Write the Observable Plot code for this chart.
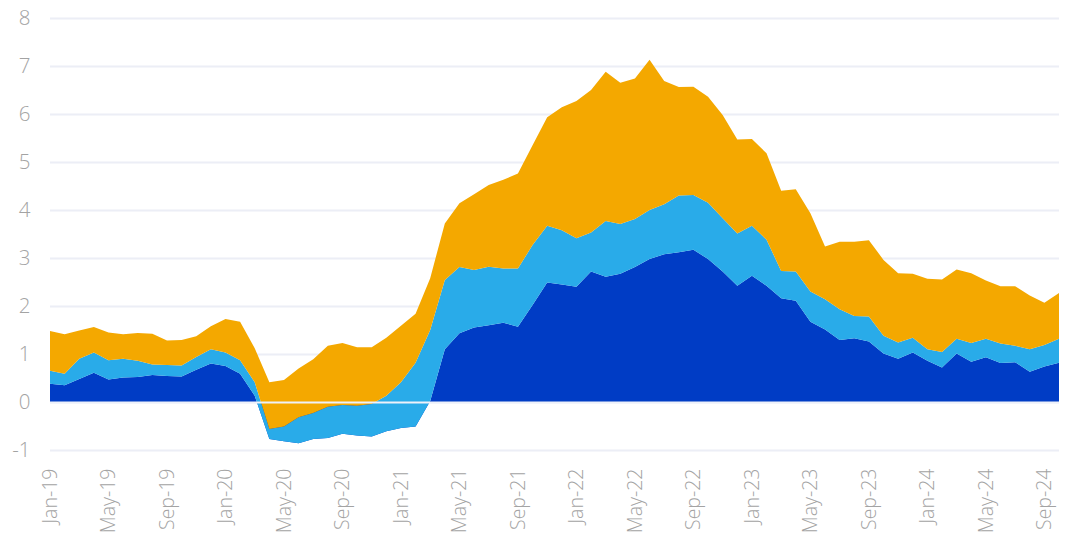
<!DOCTYPE html>
<html>
<head>
<meta charset="utf-8">
<script src="https://cdn.jsdelivr.net/npm/d3@7"></script>
<script src="https://cdn.jsdelivr.net/npm/@observablehq/plot@0.6"></script>
<style>
  html, body { margin: 0; padding: 0; background: #ffffff; }
  #chart svg { display: block; }
</style>
</head>
<body>
<div id="chart"></div>
<script>
// Month categories (Jan-19 .. Oct-24)
const months = [
  "Jan-19","Feb-19","Mar-19","Apr-19","May-19","Jun-19","Jul-19","Aug-19","Sep-19","Oct-19","Nov-19","Dec-19",
  "Jan-20","Feb-20","Mar-20","Apr-20","May-20","Jun-20","Jul-20","Aug-20","Sep-20","Oct-20","Nov-20","Dec-20",
  "Jan-21","Feb-21","Mar-21","Apr-21","May-21","Jun-21","Jul-21","Aug-21","Sep-21","Oct-21","Nov-21","Dec-21",
  "Jan-22","Feb-22","Mar-22","Apr-22","May-22","Jun-22","Jul-22","Aug-22","Sep-22","Oct-22","Nov-22","Dec-22",
  "Jan-23","Feb-23","Mar-23","Apr-23","May-23","Jun-23","Jul-23","Aug-23","Sep-23","Oct-23","Nov-23","Dec-23",
  "Jan-24","Feb-24","Mar-24","Apr-24","May-24","Jun-24","Jul-24","Aug-24","Sep-24","Oct-24"
];

// Series 1 (dark blue, bottom)
const seriesDark = [
  0.38,0.35,0.48,0.61,0.47,0.51,0.52,0.56,0.54,0.53,0.67,0.80,
  0.75,0.59,0.13,-0.77,-0.82,-0.86,-0.77,-0.75,-0.66,-0.70,-0.72,-0.61,
  -0.54,-0.51,0.02,1.10,1.43,1.55,1.60,1.65,1.57,2.02,2.49,2.45,
  2.40,2.72,2.61,2.67,2.81,2.98,3.08,3.12,3.17,2.98,2.72,2.42,
  2.63,2.42,2.16,2.11,1.67,1.51,1.29,1.33,1.26,1.01,0.90,1.03,
  0.86,0.72,1.01,0.84,0.93,0.81,0.83,0.63,0.74,0.82
];

// Series 2 (light blue, middle)
const seriesLight = [
  0.27,0.24,0.42,0.42,0.40,0.39,0.34,0.22,0.23,0.23,0.27,0.30,
  0.28,0.28,0.28,0.21,0.31,0.54,0.54,0.65,0.60,0.62,0.68,0.74,
  0.95,1.33,1.48,1.44,1.38,1.20,1.22,1.13,1.21,1.25,1.18,1.13,
  1.01,0.81,1.16,1.04,1.00,1.02,1.04,1.18,1.14,1.17,1.11,1.09,
  1.04,0.96,0.57,0.61,0.63,0.63,0.64,0.46,0.52,0.37,0.34,0.31,
  0.24,0.32,0.31,0.39,0.39,0.41,0.34,0.47,0.45,0.50
];

// Series 3 (orange, top)
const seriesOrange = [
  0.83,0.82,0.59,0.53,0.58,0.51,0.58,0.64,0.51,0.53,0.43,0.48,
  0.70,0.80,0.71,0.97,0.97,1.02,1.12,1.27,1.29,1.22,1.18,1.21,
  1.18,1.02,1.08,1.18,1.33,1.58,1.70,1.85,1.98,2.08,2.26,2.56,
  2.86,2.97,3.11,2.94,2.93,3.13,2.57,2.26,2.26,2.21,2.15,1.96,
  1.81,1.80,1.67,1.71,1.63,1.10,1.41,1.55,1.59,1.58,1.44,1.33,
  1.47,1.51,1.44,1.45,1.21,1.19,1.24,1.12,0.88,0.95
];

// Axis ticks
const yTicks = [-1,0,1,2,3,4,5,6,7,8];
const xTickIndexes = d3.range(0, months.length, 4);

// Cumulative (Excel-style) stacking: each series starts where the previous ended
const rows = months.map((m, i) => {
  const a = seriesDark[i], b = seriesLight[i], c = seriesOrange[i];
  return {i, m, a0: 0, a1: a, b0: a, b1: a + b, c0: a + b, c1: a + b + c};
});

const chart = Plot.plot({
  width: 1065,
  height: 536,
  marginLeft: 50,
  marginRight: 6,
  marginTop: 18,
  marginBottom: 86,
  style: {fontFamily: "'Open Sans', sans-serif", fontSize: "20px", background: "#ffffff", color: "#a3a3a3"},
  x: {type: "linear", domain: [0, months.length - 1], label: null},
  y: {domain: [-1, 8], label: null},
  marks: [
    Plot.gridY(yTicks, {stroke: "#eceef6", strokeOpacity: 1, strokeWidth: 2}),
    Plot.areaY(rows, {x: "i", y1: "a0", y2: "a1", fill: "#003cc5"}),
    Plot.areaY(rows, {x: "i", y1: "b0", y2: "b1", fill: "#29abe9"}),
    Plot.areaY(rows, {x: "i", y1: "c0", y2: "c1", fill: "#f4a800"}),
    Plot.ruleY([0], {stroke: "#eef1fa", strokeWidth: 2}),
    Plot.axisY(yTicks, {tickSize: 0, tickPadding: 20, fontSize: 20.5, fontWeight: 300, fill: "#a3a3a3",
      tickFormat: (d) => String(d), label: null}),
    Plot.axisX(xTickIndexes, {tickSize: 0, tickPadding: 18, tickRotate: -90, fontSize: 19.5, fontWeight: 300,
      fill: "#a3a3a3", tickFormat: (i) => months[i], label: null})
  ]
});

document.getElementById("chart").appendChild(chart);
</script>
</body>
</html>
